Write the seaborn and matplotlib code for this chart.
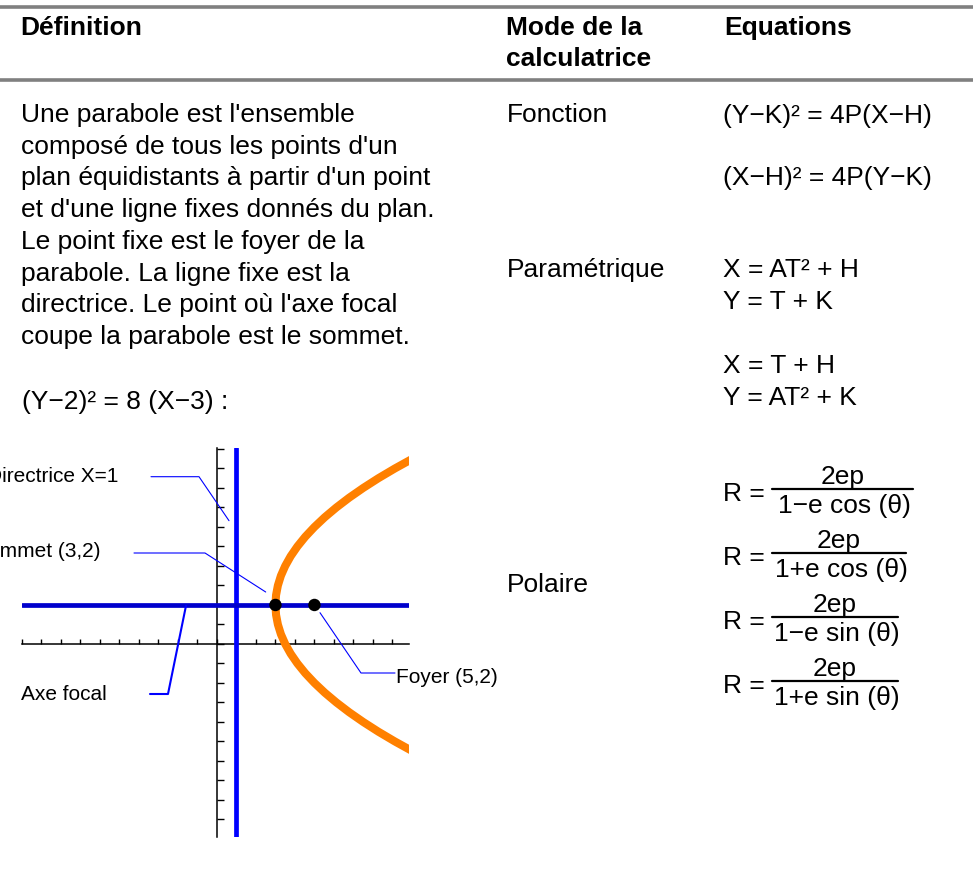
import matplotlib
matplotlib.use('Agg')
import matplotlib.pyplot as plt
import seaborn as sns
import pandas as pd

# table text
header_cols = ['Définition', 'Mode de la', 'calculatrice', 'Equations']
definition_lines = ["Une parabole est l'ensemble",
                    "composé de tous les points d'un",
                    "plan équidistants à partir d'un point",
                    "et d'une ligne fixes donnés du plan.",
                    "Le point fixe est le foyer de la",
                    "parabole. La ligne fixe est la",
                    "directrice. Le point où l'axe focal",
                    "coupe la parabole est le sommet."]
example_eq = '(Y\u22122)\u00b2 = 8 (X\u22123) :'
modes = ['Fonction', 'Paramétrique', 'Polaire']
fonction_eqs = ['(Y\u2212K)\u00b2 = 4P(X\u2212H)', '(X\u2212H)\u00b2 = 4P(Y\u2212K)']
param_eqs = ['X = AT\u00b2 + H', 'Y = T + K', 'X = T + H', 'Y = AT\u00b2 + K']
polar_num = '2ep'
polar_den = ['1\u2212e cos (\u03b8)', '1+e cos (\u03b8)', '1\u2212e sin (\u03b8)', '1+e sin (\u03b8)']

# parabola (Y-2)^2 = 8(X-3)
parabola_y = [-6, -5.5, -5, -4.5, -4, -3.5, -3, -2.5, -2, -1.5, -1, -0.5, 0, 0.5, 1, 1.5,
              2, 2.5, 3, 3.5, 4, 4.5, 5, 5.5, 6, 6.5, 7, 7.5, 8, 8.5, 9, 9.5, 10]
parabola_x = [11, 10.03, 9.125, 8.28, 7.5, 6.78, 6.125, 5.53, 5, 4.53, 4.125, 3.78, 3.5,
              3.28, 3.125, 3.03, 3, 3.03, 3.125, 3.28, 3.5, 3.78, 4.125, 4.53, 5, 5.53,
              6.125, 6.78, 7.5, 8.28, 9.125, 10.03, 11]
directrix_x = 1
focal_y = 2
points_x = [3, 5]   # sommet, foyer
points_y = [2, 2]
labels = ['Directrice X=1', 'Sommet (3,2)', 'Axe focal', 'Foyer (5,2)']

sns.set_theme(style='white')
plt.rcParams['font.family'] = ['Liberation Sans', 'DejaVu Sans']
plt.rcParams['text.color'] = 'black'

W, H = 973, 891
fig = plt.figure(figsize=(W / 100, H / 100), dpi=100)

# graph axes (pixel box 22..409 x 448..837)
ax = fig.add_axes([22 / W, (H - 837) / H, (409 - 22) / W, (837 - 448) / H])
ax.set_facecolor('white')
df = pd.DataFrame({'x': parabola_x, 'y': parabola_y})
sns.lineplot(data=df, x='x', y='y', sort=False, estimator=None, color='#ff8000',
             lw=5.8, ax=ax, zorder=3, solid_capstyle='butt')
ax.axvline(directrix_x, color='#0000ff', lw=3.4, zorder=3)
ax.axhline(focal_y, color='#0000cc', lw=3.4, zorder=3)
sns.scatterplot(x=points_x, y=points_y, color='black', s=80, edgecolor='none', ax=ax, zorder=4)
ax.set_xlim(-10, 9.85)
ax.set_ylim(-9.9, 10.05)
for s in ['top', 'right']:
    ax.spines[s].set_visible(False)
ax.spines['left'].set_position(('data', 0))
ax.spines['bottom'].set_position(('data', 0))
for s in ['left', 'bottom']:
    ax.spines[s].set_color('black')
    ax.spines[s].set_linewidth(1.1)
ax.set_xticks(range(-10, 10))
ax.set_yticks(range(-9, 11))
ax.set_xticklabels([])
ax.set_yticklabels([])
ax.tick_params(axis='x', direction='in', length=3.8, width=1, color='black', bottom=True)
ax.tick_params(axis='y', direction='in', length=5, width=1, color='black', left=True)
ax.set_xlabel('')
ax.set_ylabel('')

# overlay in pixel coordinates for the table
ov = fig.add_axes([0, 0, 1, 1], zorder=5)
ov.set_xlim(0, W)
ov.set_ylim(H, 0)
ov.axis('off')
ov.patch.set_alpha(0)

ov.plot([0, W], [6.5, 6.5], color='#808080', lw=2.6)
ov.plot([0, W], [79.5, 79.5], color='#808080', lw=2.6)

fs = 19
hd = dict(fontsize=fs, fontweight='bold', va='baseline', ha='left', color='black')
ov.text(20, 35, header_cols[0], **hd)
ov.text(506, 35, header_cols[1], **hd)
ov.text(506, 66, header_cols[2], **hd)
ov.text(724, 35, header_cols[3], **hd)

tx = dict(fontsize=fs, va='baseline', ha='left', color='black')
for i, line in enumerate(definition_lines):
    ov.text(21, 122 + i * 31.7, line, **tx)
ov.text(22, 409, example_eq, **tx)

ov.text(507, 122, modes[0], **tx)
ov.text(507, 277, modes[1], **tx)
ov.text(507, 592, modes[2], **tx)

ov.text(723, 123, fonction_eqs[0], **tx)
ov.text(723, 185, fonction_eqs[1], **tx)
for y, eq in zip([277, 309, 373, 405], param_eqs):
    ov.text(723, y, eq, **tx)

bar_right = [913, 906, 898, 898]
for i, den in enumerate(polar_den):
    yb = 489 + i * 64
    ov.text(723, yb + 12, 'R =', **tx)
    ov.plot([772, bar_right[i]], [yb, yb], color='black', lw=1.6)
    cx = (772 + bar_right[i]) / 2
    ov.text(cx, yb - 5, polar_num, fontsize=fs, va='baseline', ha='center', color='black')
    ov.text(cx + 2, yb + 24, den, fontsize=fs, va='baseline', ha='center', color='black')

# annotations of the graph
lc = '#0000ff'
ov.plot([151, 199, 229], [476.7, 476.7, 520.7], color=lc, lw=0.8)
ov.plot([134, 205, 265.7], [553, 553, 592], color=lc, lw=0.8)
ov.plot([150, 168, 186], [694, 694, 605.7], color=lc, lw=1.5)
ov.plot([320, 361, 395], [612.7, 673, 673], color=lc, lw=0.8)
lf = 15
an = dict(fontsize=lf, va='baseline', color='black')
ov.text(118, 482, labels[0], ha='right', **an)
ov.text(101, 557, labels[1], ha='right', **an)
ov.text(21, 700, labels[2], ha='left', **an)
ov.text(396, 683, labels[3], ha='left', **an)

fig.savefig('out.png', dpi=100)
